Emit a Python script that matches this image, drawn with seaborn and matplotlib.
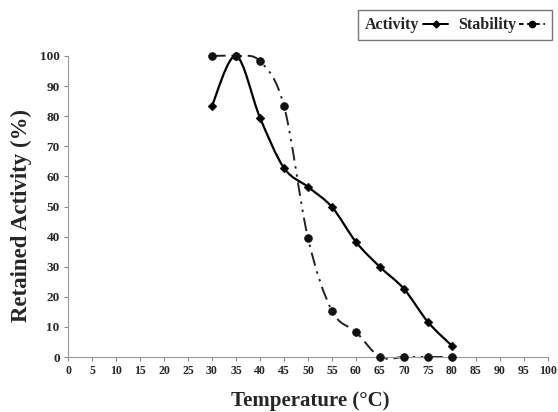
import numpy as np
import pandas as pd
import matplotlib
matplotlib.use("Agg")
import matplotlib.pyplot as plt
import seaborn as sns
from matplotlib.path import Path
from matplotlib.patches import PathPatch
from matplotlib.lines import Line2D

temperature = [30, 35, 40, 45, 50, 55, 60, 65, 70, 75, 80]
activity = [83.5, 100, 79.5, 62.8, 56.5, 49.8, 38.2, 29.9, 22.6, 11.6, 3.7]
stability = [100, 100, 98.3, 83.4, 39.5, 15.3, 8.3, 0, 0, 0, 0]
x_ticks = list(range(0, 101, 5))
y_ticks = list(range(0, 101, 10))

sns.set_style("white")
plt.rcParams['font.family'] = ['Liberation Serif', 'DejaVu Serif']

df = pd.DataFrame({"Temperature": temperature, "Activity": activity, "Stability": stability})

fig = plt.figure(figsize=(5.58, 4.12), dpi=100)
ax = fig.add_axes([68/558, 1-357/412, (548-68)/558, (357-56)/412])


def smooth_path(xs, ys):
    pts = np.column_stack([xs, ys]).astype(float)
    verts = [pts[0]]
    codes = [Path.MOVETO]
    n = len(pts)
    for i in range(n - 1):
        p0 = pts[i - 1] if i > 0 else pts[i]
        p1 = pts[i]
        p2 = pts[i + 1]
        p3 = pts[i + 2] if i + 2 < n else pts[i + 1]
        c1 = p1 + (p2 - p0) / 6.0
        c2 = p2 - (p3 - p1) / 6.0
        verts += [c1, c2, p2]
        codes += [Path.CURVE4] * 3
    return Path(verts, codes)


ax.add_patch(PathPatch(smooth_path(df.Temperature, df.Activity),
                       fill=False, lw=1.6, color="black", zorder=2, clip_on=False))
ax.add_patch(PathPatch(smooth_path(df.Temperature, df.Stability), fill=False, lw=1.4,
                       color="#222222", linestyle=(0, (7, 3, 1.2, 3, 1.2, 3)), zorder=2,
                       clip_on=False))

sns.scatterplot(data=df, x="Temperature", y="Activity", marker="D", s=20, color="black",
                edgecolor="black", ax=ax, zorder=3, clip_on=False)
sns.scatterplot(data=df, x="Temperature", y="Stability", marker="o", s=32, color="#111111",
                edgecolor="#111111", ax=ax, zorder=3, clip_on=False)

ax.set_xlim(0, 100)
ax.set_ylim(0, 100)
ax.set_xticks(x_ticks)
ax.set_yticks(y_ticks)
ax.set_xticklabels([str(t) for t in x_ticks], fontsize=8.5, fontweight="bold")
ax.set_yticklabels([str(t) for t in y_ticks], fontsize=9.5, fontweight="bold")
ax.tick_params(axis="both", length=3, width=0.8, color="#888888", pad=3, direction="out")
ax.xaxis.set_ticks_position("bottom")
ax.yaxis.set_ticks_position("left")
for s in ["top", "right"]:
    ax.spines[s].set_visible(False)
for s in ["left", "bottom"]:
    ax.spines[s].set_color("#999999")
    ax.spines[s].set_linewidth(0.8)

ax.set_xlabel("Temperature (°C)", fontsize=15, fontweight="bold")
ax.xaxis.set_label_coords((310 - 68) / 480, (357 - 391) / 301)
ax.set_ylabel("Retained Activity (%)", fontsize=16.5, fontweight="bold")
ax.yaxis.set_label_coords((32 - 68) / 480, (357 - 215) / 301)

handles = [Line2D([0], [0], color="black", lw=1.4, marker="D", markersize=3.5),
           Line2D([0], [0], color="black", lw=1.3, linestyle=(0, (2.5, 2)), marker="o", markersize=4.5)]
leg = fig.legend(handles, ["Activity", "Stability"], loc="upper right",
                 bbox_to_anchor=(552/558, 1-10/412), ncol=2, frameon=True,
                 prop={"weight": "bold", "size": 11.5}, markerfirst=False,
                 handlelength=1.6, handletextpad=0.2, columnspacing=0.6,
                 borderpad=0.45, borderaxespad=0.0, fancybox=False, edgecolor="#555555")
leg.get_frame().set_linewidth(1.0)

fig.savefig("out.png", dpi=100)
